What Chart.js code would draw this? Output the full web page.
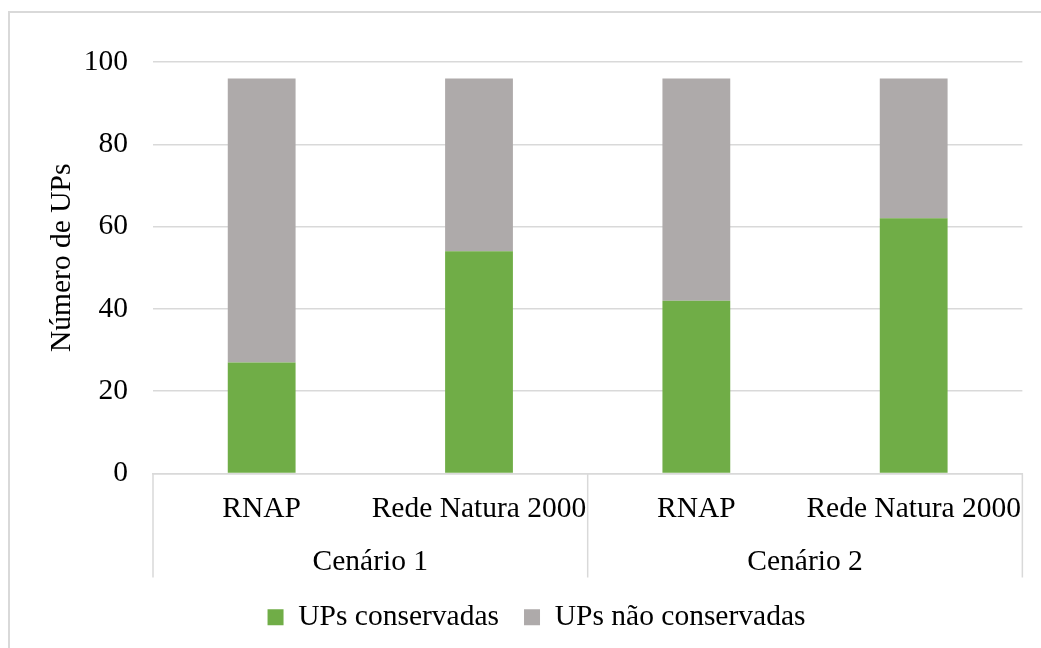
<!DOCTYPE html>
<html>
<head>
<meta charset="utf-8">
<script src="https://cdn.jsdelivr.net/npm/chart.js@4"></script>
<style>
  html, body { margin: 0; padding: 0; background: #fff; overflow: hidden; }
  #frame {
    position: absolute; left: 8px; top: 11px; width: 1100px; height: 700px;
    border-left: 2px solid #d9d9d9; border-top: 2px solid #d9d9d9;
  }
  #wrap { position: absolute; left: 0; top: 0; width: 1041px; height: 648px; }
</style>
</head>
<body>
<div id="frame"></div>
<div id="wrap"><canvas id="chart" width="1041" height="648"></canvas></div>
<script>
// categories (bottom level) and their groups (second level)
const subLabels = ["RNAP", "Rede Natura 2000", "RNAP", "Rede Natura 2000"];
const groups = ["Cenário 1", "Cenário 2"];

// number of UPs per bar
const conservadas = [27, 54, 42, 62];
const naoConservadas = [69, 42, 54, 34];

const yTicks = [0, 20, 40, 60, 80, 100];
const yTitle = "Número de UPs";

const FONT = "'Liberation Serif', 'Times New Roman', serif";
const FSIZE = 29.5;
const GRID = "#d9d9d9";

// draws the second row of the category axis (group names + separators)
// and the y axis title
const groupAxisPlugin = {
  id: "groupAxis",
  afterLayout(chart) {
    // legend sits a bit right of the canvas centre in the original
    chart.legend.left += 24;
    chart.legend.right += 24;
  },
  afterDraw(chart) {
    const ctx = chart.ctx;
    const x = chart.scales.x;
    const area = chart.chartArea;
    const top = area.bottom;
    const bottom = x.bottom;
    const per = subLabels.length / groups.length;

    ctx.save();
    ctx.strokeStyle = GRID;
    ctx.lineWidth = 1.5;
    // separators
    const edges = [];
    for (let g = 0; g <= groups.length; g++) {
      let px;
      if (g === 0) px = area.left;
      else if (g === groups.length) px = area.right;
      else px = (x.getPixelForValue(g * per - 1) + x.getPixelForValue(g * per)) / 2;
      edges.push(px);
      ctx.beginPath();
      ctx.moveTo(px, top);
      ctx.lineTo(px, bottom);
      ctx.stroke();
    }
    // group labels
    ctx.fillStyle = "#000";
    ctx.font = FSIZE + "px " + FONT;
    ctx.textAlign = "center";
    ctx.textBaseline = "middle";
    groups.forEach((g, i) => {
      ctx.fillText(g, (edges[i] + edges[i + 1]) / 2, top + 89);
    });

    // y title
    ctx.translate(62, (area.top + area.bottom) / 2 - 10);
    ctx.rotate(-Math.PI / 2);
    ctx.fillText(yTitle, 0, 0);
    ctx.restore();
  }
};

new Chart(document.getElementById("chart"), {
  type: "bar",
  data: {
    labels: subLabels,
    datasets: [
      {
        label: "UPs conservadas",
        data: conservadas,
        backgroundColor: "#70ad47",
        borderWidth: 0,
        categoryPercentage: 1,
        barPercentage: 0.312,
      },
      {
        label: "UPs não conservadas",
        data: naoConservadas,
        backgroundColor: "#aeaaaa",
        borderWidth: 0,
        categoryPercentage: 1,
        barPercentage: 0.312,
      },
    ],
  },
  options: {
    responsive: false,
    animation: false,
    layout: { padding: { top: 62, right: 16, bottom: 6, left: 0 } },
    plugins: {
      tooltip: { enabled: false },
      legend: {
        position: "bottom",
        labels: {
          color: "#000",
          font: { family: FONT, size: FSIZE },
          boxWidth: 16,
          boxHeight: 16,
          padding: 25,
        },
      },
    },
    scales: {
      x: {
        stacked: true,
        grid: { display: false, drawTicks: false },
        border: { display: true, color: GRID, width: 1.5 },
        ticks: {
          color: "#000",
          font: { family: FONT, size: FSIZE },
          padding: 18,
          maxRotation: 0,
          autoSkip: false,
        },
        afterFit(scale) { scale.height = 104; },
      },
      y: {
        stacked: true,
        min: 0,
        max: 100,
        afterBuildTicks(scale) { scale.ticks = yTicks.map(v => ({ value: v })); },
        grid: { color: GRID, lineWidth: 1.5, drawTicks: false },
        border: { display: false },
        ticks: {
          color: "#000",
          font: { family: FONT, size: FSIZE },
          padding: 25,
        },
        afterFit(scale) { scale.width = 153; },
      },
    },
  },
  plugins: [groupAxisPlugin],
});
</script>
</body>
</html>
